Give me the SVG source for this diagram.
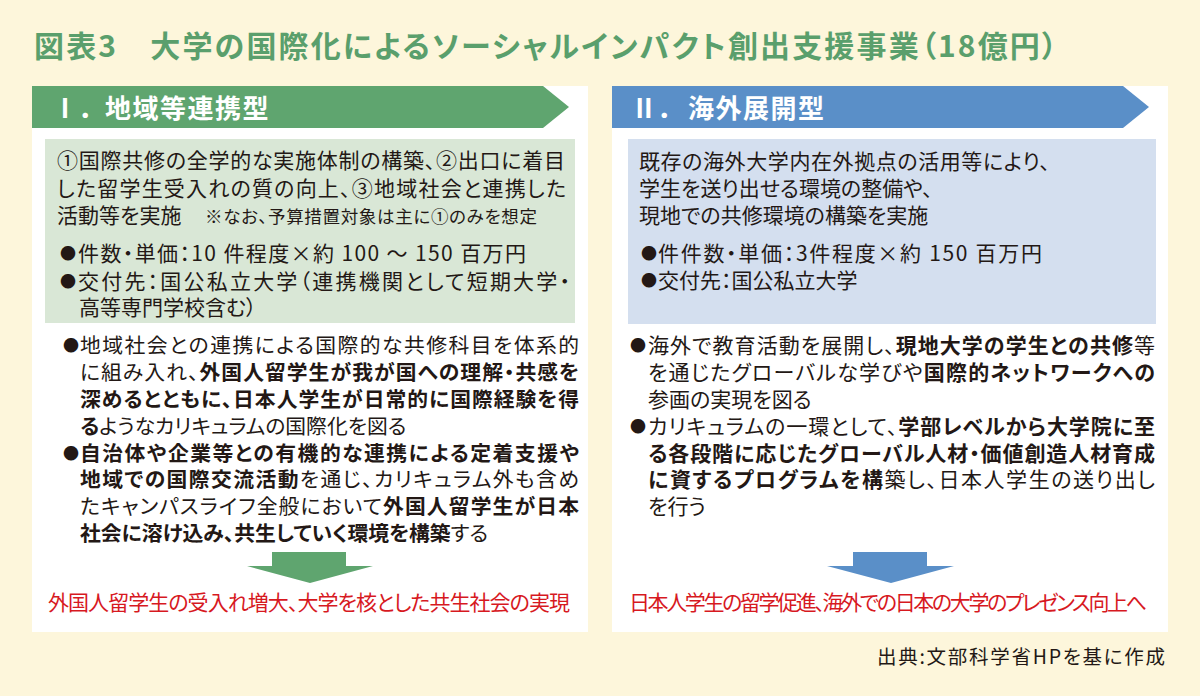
<svg xmlns="http://www.w3.org/2000/svg" width="1200" height="696" viewBox="0 0 1200 696">
<style>
text{font-family:"Noto Sans CJK JP","Noto Sans",sans-serif;font-feature-settings:"palt";fill:#231815}
.t{font-size:30px;font-weight:bold;fill:#5A9F6C}
.h{font-size:26px;font-weight:bold;fill:#fff;font-feature-settings:normal;letter-spacing:1.5px}
.num{letter-spacing:0}
.b{font-size:21px}
.s{font-size:17.5px}
.k{font-size:20.8px}
.dot{font-size:16px;font-feature-settings:normal}
.bd{font-weight:bold}
.r{font-size:21px;fill:#D7191F}
.src{font-size:19.5px}
</style>
<rect width="1200" height="696" fill="#FDF6DB"/>
<text class="t" x="34" y="57" textLength="1023">図表3　大学の国際化によるソーシャルインパクト創出支援事業（18億円）</text>

<g id="panel-1">
<rect x="32" y="86" width="556" height="546" fill="#fff"/>
<polygon points="32,86 543,86 569,107 543,128 32,128" fill="#5FA56F"/>
<text class="h" y="118"><tspan class="num" x="52">Ⅰ．</tspan><tspan x="105">地域等連携型</tspan></text>
<rect x="45" y="139" width="530" height="184" fill="#D9E7D6"/>
<text class="b" x="57" y="168" textLength="508">①国際共修の全学的な実施体制の構築、②出口に着目</text>
<text class="b" x="57" y="196" textLength="509">した留学生受入れの質の向上、③地域社会と連携した</text>
<text class="b" x="57" y="223">活動等を実施</text>
<text class="s" x="205" y="223" textLength="332">※なお、予算措置対象は主に①のみを想定</text>
<text class="dot" x="60" y="259">●</text>
<text class="b" x="78" y="261" textLength="448">件数・単価：10 件程度×約 100 ～ 150 百万円</text>
<text class="dot" x="60" y="287">●</text>
<text class="b" x="78" y="289" textLength="492">交付先：国公私立大学（連携機関として短期大学・</text>
<text class="b" x="79" y="315">高等専門学校含む）</text>

<text class="dot" x="63" y="351">●</text>
<text class="k" x="80" y="353" textLength="499">地域社会との連携による国際的な共修科目を体系的</text>
<text class="k" x="80" y="380" textLength="499">に組み入れ、<tspan class="bd">外国人留学生が我が国への理解・共感を</tspan></text>
<text class="k bd" x="80" y="407" textLength="499">深めるとともに、日本人学生が日常的に国際経験を得</text>
<text class="k" x="80" y="434"><tspan class="bd">る</tspan>ようなカリキュラムの国際化を図る</text>
<text class="dot" x="63" y="459">●</text>
<text class="k bd" x="80" y="461" textLength="499">自治体や企業等との有機的な連携による定着支援や</text>
<text class="k" x="80" y="487" textLength="499"><tspan class="bd">地域での国際交流活動</tspan>を通じ、カリキュラム外も含め</text>
<text class="k" x="80" y="514" textLength="499">たキャンパスライフ全般において<tspan class="bd">外国人留学生が日本</tspan></text>
<text class="k" x="80" y="541"><tspan class="bd">社会に溶け込み、共生していく環境を構築</tspan>する</text>

<polygon points="272,552 346,552 346,566 373,566 310,583 247,566 272,566" fill="#5FA56F"/>
<text class="r" x="48" y="610" textLength="522">外国人留学生の受入れ増大、大学を核とした共生社会の実現</text>
</g>

<g id="panel-2">
<rect x="612" y="86" width="556" height="546" fill="#fff"/>
<polygon points="612,86 1123,86 1149,107 1123,128 612,128" fill="#5A8FC8"/>
<text class="h" y="118"><tspan class="num" x="631">Ⅱ．</tspan><tspan x="688">海外展開型</tspan></text>
<rect x="628" y="139" width="528" height="185" fill="#D4DFEF"/>
<text class="b" x="639" y="169" textLength="411">既存の海外大学内在外拠点の活用等により、</text>
<text class="b" x="639" y="196">学生を送り出せる環境の整備や、</text>
<text class="b" x="639" y="223">現地での共修環境の構築を実施</text>
<text class="dot" x="641" y="259">●</text>
<text class="b" x="658" y="261" textLength="384">件件数・単価：3件程度×約 150 百万円</text>
<text class="dot" x="641" y="286">●</text>
<text class="b" x="658" y="288">交付先：国公私立大学</text>

<text class="dot" x="630" y="351">●</text>
<text class="b" x="648" y="353" textLength="507">海外で教育活動を展開し、<tspan class="bd">現地大学の学生との共修</tspan>等</text>
<text class="b" x="648" y="380" textLength="507">を通じたグローバルな学びや<tspan class="bd">国際的ネットワークへの</tspan></text>
<text class="b" x="648" y="407">参画の実現を図る</text>
<text class="dot" x="630" y="432">●</text>
<text class="b" x="648" y="434" textLength="507">カリキュラムの一環として、<tspan class="bd">学部レベルから大学院に至</tspan></text>
<text class="b bd" x="648" y="461" textLength="507">る各段階に応じたグローバル人材・価値創造人材育成</text>
<text class="b" x="648" y="487" textLength="507"><tspan class="bd">に資するプログラムを構</tspan>築し、日本人学生の送り出し</text>
<text class="b" x="648" y="514">を行う</text>

<polygon points="853,552 927,552 927,566 954,566 891,583 827,566 853,566" fill="#5A8FC8"/>
<text class="r" x="629" y="610" textLength="518">日本人学生の留学促進、海外での日本の大学のプレゼンス向上へ</text>
</g>

<text class="src" x="877" y="664" textLength="288">出典:文部科学省HPを基に作成</text>
</svg>
